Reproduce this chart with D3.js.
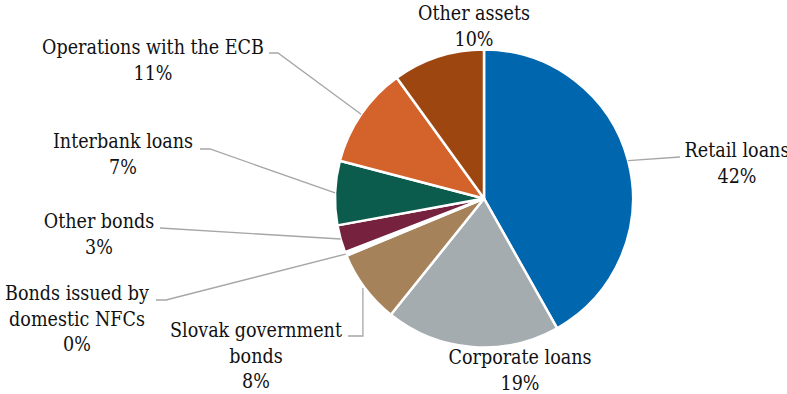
<!DOCTYPE html>
<html>
<head>
<meta charset="utf-8">
<script src="https://cdn.jsdelivr.net/npm/d3@7"></script>
<style>
  html, body { margin: 0; padding: 0; background: #fff; }
  svg { display: block; }
  text { font-family: "DejaVu Serif", "Liberation Serif", serif; font-stretch: condensed; fill: #111111; }
</style>
</head>
<body>
<svg id="chart" width="787" height="394"></svg>
<script>
// Asset structure (share of total assets, %)
const categories = [
  "Retail loans",
  "Corporate loans",
  "Slovak government bonds",
  "Bonds issued by domestic NFCs",
  "Other bonds",
  "Interbank loans",
  "Operations with the ECB",
  "Other assets"
];
const shares = [42, 19, 8, 0.4, 3, 7, 11, 10];
const colors = ["#0066ad", "#a5acaf", "#a5825a", "#ffffff", "#76213e", "#0c5c4e", "#d3622b", "#9d4610"];

// Label text lines (the value is appended as the last line)
const labelLines = [
  ["Retail loans"],
  ["Corporate loans"],
  ["Slovak government", "bonds"],
  ["Bonds issued by", "domestic NFCs"],
  ["Other bonds"],
  ["Interbank loans"],
  ["Operations with the ECB"],
  ["Other assets"]
];

const svg = d3.select("#chart");
const cx = 484, cy = 198.5, R = 149;
const lineH = 25.5;

// Label placement: centre x, first baseline, and leader path after the slice edge
const layout = [
  { x: 737, y: 157, leader: [[680, 157]] },
  { x: 520, y: 364, leader: null },
  { x: 256, y: 337, leader: "vertical", elbowY: 336, endX: 348 },
  { x: 77,  y: 300, leader: [[166, 300], [156, 300]] },
  { x: 99,  y: 228, leader: [[160, 228]] },
  { x: 123, y: 148, leader: [[210, 149], [200, 149]] },
  { x: 153, y: 54,  leader: [[278, 53], [269, 53]] },
  { x: 474, y: 20,  leader: null }
];

const data = categories.map((c, i) => ({ name: c, value: shares[i], color: colors[i], lines: labelLines[i], pos: layout[i] }));

const pie = d3.pie().sort(null).value(d => d.value);
const arcs = pie(data);
const arc = d3.arc().innerRadius(0).outerRadius(R);

const g = svg.append("g").attr("transform", `translate(${cx},${cy})`);

g.selectAll("path.slice")
  .data(arcs)
  .join("path")
  .attr("class", "slice")
  .attr("d", arc)
  .attr("fill", d => d.data.color)
  .attr("stroke", "#ffffff")
  .attr("stroke-width", 2.5)
  .attr("stroke-linejoin", "round");

// Leader lines from the middle of each slice's outer edge
function edgePoint(a) {
  const mid = (a.startAngle + a.endAngle) / 2;
  return [cx + R * Math.sin(mid), cy - R * Math.cos(mid)];
}

const line = d3.line();
arcs.forEach(a => {
  const p = a.data.pos;
  if (!p.leader) return;
  const s = edgePoint(a);
  let pts;
  if (p.leader === "vertical") {
    s[0] -= 2;
    pts = [s, [s[0], p.elbowY], [p.endX, p.elbowY]];
  } else {
    pts = [s].concat(p.leader);
  }
  svg.append("path")
    .attr("d", line(pts))
    .attr("fill", "none")
    .attr("stroke", "#a6a6a6")
    .attr("stroke-width", 1.3);
});

// Category and value labels
const fmt = v => Math.round(v) + "%";
arcs.forEach(a => {
  const p = a.data.pos;
  const t = svg.append("text")
    .attr("text-anchor", "middle")
    .attr("font-size", 19.5);
  const lines = a.data.lines.concat([fmt(a.data.value)]);
  lines.forEach((l, i) => {
    t.append("tspan").attr("x", p.x).attr("y", p.y + i * lineH).text(l);
  });
});
</script>
</body>
</html>
